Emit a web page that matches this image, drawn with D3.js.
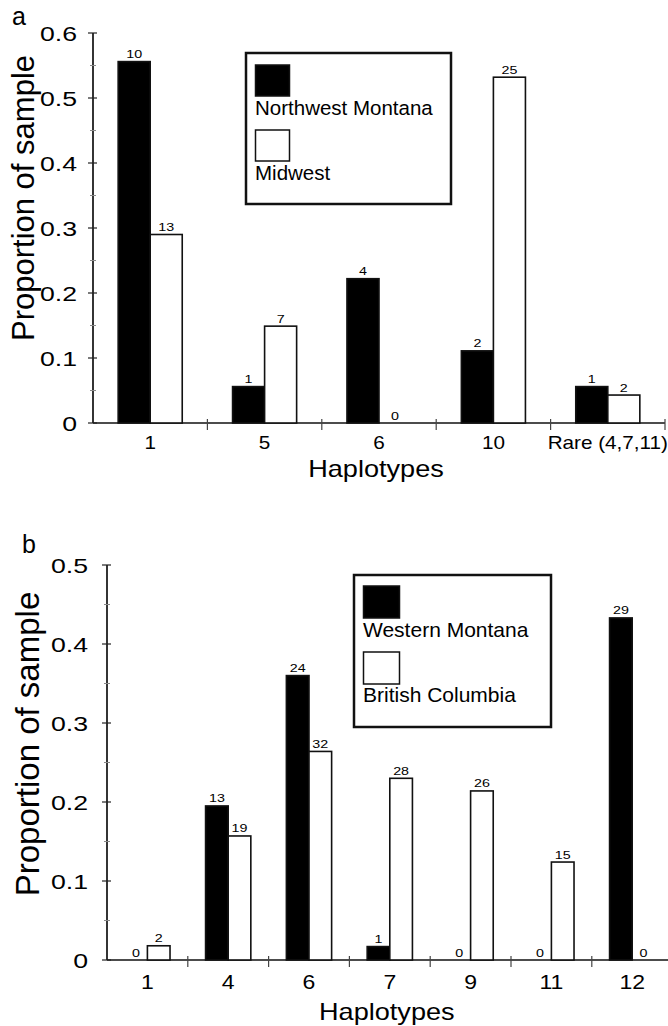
<!DOCTYPE html>
<html>
<head>
<meta charset="utf-8">
<script src="https://cdn.jsdelivr.net/npm/d3@7"></script>
<style>
  body { margin: 0; background: #fff; }
  text { font-family: "Liberation Sans", Arial, Helvetica, sans-serif; fill: #000; }
</style>
</head>
<body>
<div id="chart"></div>
<script>
// Panel a data
const haploA = ["1", "5", "6", "10", "Rare (4,7,11)"];
const nwMontanaProp = [0.556, 0.056, 0.222, 0.111, 0.056];
const nwMontanaCount = [10, 1, 4, 2, 1];
const midwestProp = [0.29, 0.149, 0, 0.532, 0.043];
const midwestCount = [13, 7, 0, 25, 2];
const yTicksA = [0, 0.1, 0.2, 0.3, 0.4, 0.5, 0.6];
const yLabelsA = ["0", "0.1", "0.2", "0.3", "0.4", "0.5", "0.6"];

// Panel b data
const haploB = ["1", "4", "6", "7", "9", "11", "12"];
const wMontanaProp = [0, 0.195, 0.36, 0.017, 0, 0, 0.433];
const wMontanaCount = [0, 13, 24, 1, 0, 0, 29];
const bcProp = [0.018, 0.157, 0.264, 0.23, 0.214, 0.124, 0];
const bcCount = [2, 19, 32, 28, 26, 15, 0];
const yTicksB = [0, 0.1, 0.2, 0.3, 0.4, 0.5];
const yLabelsB = ["0", "0.1", "0.2", "0.3", "0.4", "0.5"];

const width = 668;
const height = 1026;

const svg = d3.select("#chart")
  .append("svg")
  .attr("width", width)
  .attr("height", height);

svg.append("rect").attr("width", width).attr("height", height).attr("fill", "#fff");

// text with a horizontal stretch (the original numerals are wide)
function wideText(g, x, y, txt, size, sx, anchor) {
  return g.append("text")
    .attr("transform", `translate(${x},${y}) scale(${sx},1)`)
    .attr("text-anchor", anchor)
    .style("font-size", size + "px")
    .text(txt);
}

function drawPanel(p) {
  const g = svg.append("g");

  const x = d3.scaleBand()
    .domain(p.cats)
    .range([p.left, p.left + p.band * p.cats.length])
    .paddingInner(0).paddingOuter(0);

  const y = d3.scaleLinear()
    .domain([0, p.yMax])
    .range([p.bottom, p.top]);

  const barW = x.bandwidth() * 0.28;

  // axes lines
  g.append("line")
    .attr("x1", p.left).attr("x2", p.left)
    .attr("y1", y(p.yMax)).attr("y2", y(0))
    .attr("stroke", "#111").attr("stroke-width", 1.7);
  g.append("line")
    .attr("x1", p.left).attr("x2", x.range()[1])
    .attr("y1", y(0)).attr("y2", y(0))
    .attr("stroke", "#111").attr("stroke-width", 1.7);

  // y ticks, major + minor halfway
  p.yTicks.forEach((t, i) => {
    g.append("line")
      .attr("x1", p.left - 5).attr("x2", p.left + 4)
      .attr("y1", y(t)).attr("y2", y(t))
      .attr("stroke", "#222").attr("stroke-width", 1.2);
    wideText(g, p.labelRight, y(t) + 7.5, p.yLabels[i], p.tickSize, p.tickSx, "end");
    if (i < p.yTicks.length - 1) {
      const m = (t + p.yTicks[i + 1]) / 2;
      g.append("line")
        .attr("x1", p.left - 3).attr("x2", p.left + 3)
        .attr("y1", y(m)).attr("y2", y(m))
        .attr("stroke", "#888").attr("stroke-width", 1);
    }
  });

  // x ticks at band boundaries
  p.cats.forEach(c => {
    const bx = x(c) + x.bandwidth();
    g.append("line")
      .attr("x1", bx).attr("x2", bx)
      .attr("y1", y(0) - 4).attr("y2", y(0) + 7)
      .attr("stroke", "#444").attr("stroke-width", 1.2);
    wideText(g, x(c) + x.bandwidth() / 2, p.xLabelY, c, p.xTickSize, 1.15, "middle");
  });

  // bars
  const series = [
    { vals: p.blackProp, counts: p.blackCount, fill: "#000", off: -barW },
    { vals: p.whiteProp, counts: p.whiteCount, fill: "#fff", off: 0 }
  ];
  series.forEach(s => {
    p.cats.forEach((c, i) => {
      const cx = x(c) + x.bandwidth() / 2 + s.off;
      if (s.vals[i] > 0) {
        g.append("rect")
          .attr("x", cx)
          .attr("y", y(s.vals[i]))
          .attr("width", barW)
          .attr("height", y(0) - y(s.vals[i]))
          .attr("fill", s.fill)
          .attr("stroke", "#111")
          .attr("stroke-width", 1.6);
      }
      wideText(g, cx + barW / 2, y(s.vals[i]) - 3.5, s.counts[i], 11, 1.3, "middle");
    });
  });

  // axis titles
  wideText(g, (p.left + x.range()[1]) / 2 - 3, p.xTitleY, "Haplotypes", 24, 1.13, "middle");
  g.append("text")
    .attr("transform", `translate(${p.yTitleX},${p.yTitleY}) rotate(-90)`)
    .attr("text-anchor", "middle")
    .style("font-size", p.yTitleSize + "px")
    .text("Proportion of sample");

  // panel letter
  g.append("text")
    .attr("x", p.letterX).attr("y", p.letterY)
    .style("font-size", "25px")
    .text(p.letter);

  // legend
  const lg = g.append("g");
  lg.append("rect")
    .attr("x", p.legend.x).attr("y", p.legend.y)
    .attr("width", p.legend.w).attr("height", p.legend.h)
    .attr("fill", "#fff").attr("stroke", "#111").attr("stroke-width", 2.5);
  p.legend.items.forEach((it, i) => {
    lg.append("rect")
      .attr("x", p.legend.x + 9.5).attr("y", p.legend.y + p.legend.swatchY[i])
      .attr("width", p.legend.sw).attr("height", p.legend.sh)
      .attr("fill", i === 0 ? "#000" : "#fff")
      .attr("stroke", "#111").attr("stroke-width", 1.5);
    lg.append("text")
      .attr("x", p.legend.x + 9).attr("y", p.legend.y + p.legend.textY[i])
      .style("font-size", p.legend.font + "px")
      .text(it);
  });
}

drawPanel({
  cats: haploA, left: 93, band: 114.4, top: 33, bottom: 423, yMax: 0.6,
  yTicks: yTicksA, yLabels: yLabelsA, labelRight: 77, tickSize: 20.5, tickSx: 1.3,
  xLabelY: 449, xTickSize: 18, xTitleY: 477,
  blackProp: nwMontanaProp, blackCount: nwMontanaCount,
  whiteProp: midwestProp, whiteCount: midwestCount,
  yTitleX: 34, yTitleY: 198, yTitleSize: 31,
  letter: "a", letterX: 12, letterY: 25,
  legend: { x: 246, y: 53, w: 205, h: 151, sw: 34, sh: 31, swatchY: [12, 77],
    textY: [62, 127], font: 20.5, items: ["Northwest Montana", "Midwest"] }
});

drawPanel({
  cats: haploB, left: 107, band: 80.8, top: 565, bottom: 960, yMax: 0.5,
  yTicks: yTicksB, yLabels: yLabelsB, labelRight: 88, tickSize: 21, tickSx: 1.27,
  xLabelY: 989, xTickSize: 20, xTitleY: 1020,
  blackProp: wMontanaProp, blackCount: wMontanaCount,
  whiteProp: bcProp, whiteCount: bcCount,
  yTitleX: 39, yTitleY: 744, yTitleSize: 33,
  letter: "b", letterX: 22, letterY: 553,
  legend: { x: 354, y: 575, w: 197, h: 152, sw: 36, sh: 32, swatchY: [11, 77],
    textY: [62, 127], font: 21, items: ["Western Montana", "British Columbia"] }
});
</script>
</body>
</html>
